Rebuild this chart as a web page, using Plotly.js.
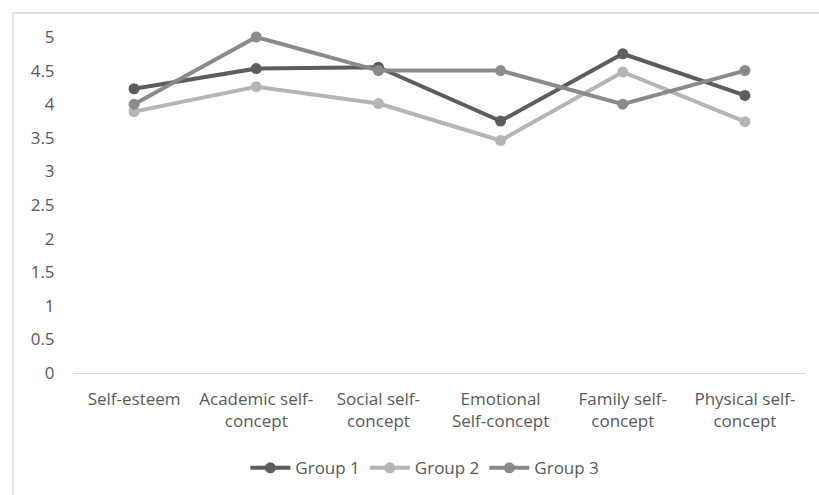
<!DOCTYPE html>
<html>
<head>
<meta charset="utf-8">
<script src="https://cdn.plot.ly/plotly-3.0.1.min.js"></script>
<style>html,body{margin:0;padding:0;background:#fff;}#chart{width:819px;height:495px;}</style>
</head>
<body>
<div id="chart"></div>
<script>
var categories = ["Self-esteem", "Academic self-<br>concept", "Social self-<br>concept", "Emotional<br>Self-concept", "Family self-<br>concept", "Physical self-<br>concept"];
var group1 = [4.23, 4.53, 4.55, 3.75, 4.75, 4.13];
var group2 = [3.89, 4.26, 4.01, 3.46, 4.48, 3.74];
var group3 = [4.0, 5.0, 4.5, 4.5, 4.0, 4.5];
var seriesNames = ["Group 1", "Group 2", "Group 3"];
var seriesColors = ["#5d5d5d", "#b5b5b5", "#8a8a8a"];
var yTicks = [0, 0.5, 1, 1.5, 2, 2.5, 3, 3.5, 4, 4.5, 5];

var values = [group1, group2, group3];
var traces = values.map(function (v, i) {
  return {
    type: "scatter", mode: "lines+markers",
    x: categories, y: v, name: seriesNames[i],
    line: {color: seriesColors[i], width: 4},
    marker: {color: seriesColors[i], size: 11},
    cliponaxis: false
  };
});

var font = {family: "'Open Sans', Lato, sans-serif", size: 17, color: "#595959"};
var layout = {
  width: 819, height: 495,
  margin: {l: 73, r: 13, t: 37, b: 122},
  paper_bgcolor: "#fff", plot_bgcolor: "#fff",
  font: font,
  showlegend: true,
  legend: {orientation: "h", x: 0.48, xanchor: "center", xref: "paper",
           y: 0.054, yanchor: "middle", yref: "container", font: font, itemwidth: 40, traceorder: "normal"},
  xaxis: {type: "category", range: [-0.5, 5.5], showgrid: false, zeroline: false,
          showline: true, linecolor: "#d9d9d9", linewidth: 1.3, ticks: "outside", ticklen: 10, tickcolor: "rgba(0,0,0,0)", tickfont: font, automargin: false},
  yaxis: {range: [0, 5], tickvals: yTicks, ticktext: yTicks.map(String), showgrid: false, zeroline: false,
          showline: false, ticks: "outside", ticklen: 14, tickcolor: "rgba(0,0,0,0)", tickfont: font, automargin: false},
  shapes: [{type: "rect", xref: "paper", yref: "paper", x0: -0.0819, x1: 1.1, y0: -0.5, y1: 1.0714,
            line: {color: "#d9d9d9", width: 1.3}, fillcolor: "rgba(0,0,0,0)", layer: "below"}]
};
Plotly.newPlot("chart", traces, layout, {displayModeBar: false, staticPlot: true});
</script>
</body>
</html>
